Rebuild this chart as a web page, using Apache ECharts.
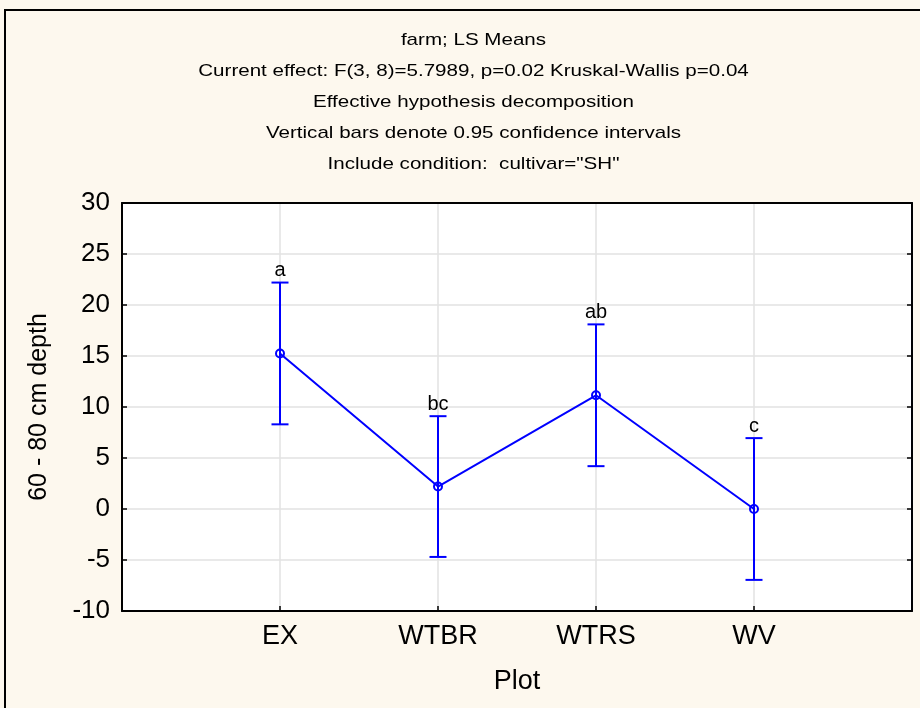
<!DOCTYPE html>
<html>
<head>
<meta charset="utf-8">
<script src="https://cdn.jsdelivr.net/npm/echarts@6/dist/echarts.min.js"></script>
<style>
  html, body { margin: 0; padding: 0; background: #fdf8ee; }
  #chart { width: 920px; height: 708px; }
</style>
</head>
<body>
<div id="chart"></div>
<script>
// LS means of 60-80 cm depth by plot, with 0.95 confidence intervals
var categories = ['EX', 'WTBR', 'WTRS', 'WV'];
var means = [15.25, 2.2, 11.15, 0.0];
var ciLow = [8.3, -4.7, 4.2, -6.95];
var ciHigh = [22.2, 9.1, 18.1, 6.95];
var groupLetters = ['a', 'bc', 'ab', 'c'];
var titleLines = [
  'farm; LS Means',
  'Current effect: F(3, 8)=5.7989, p=0.02 Kruskal-Wallis p=0.04',
  'Effective hypothesis decomposition',
  'Vertical bars denote 0.95 confidence intervals',
  'Include condition:  cultivar="SH"'
];
var yTicks = { min: -10, max: 30, step: 5 };

var FONT = 'Liberation Sans, Arial, sans-serif';
var BLUE = '#0000ff';

// categories sit at x = 1..n on a value axis with a full step of padding both sides
var linePoints = means.map(function (m, i) { return [i + 1, m]; });
var barData = categories.map(function (c, i) {
  return [i + 1, ciLow[i], ciHigh[i], means[i], groupLetters[i]];
});

// header block: five centred lines, slightly widened
var headerGraphics = titleLines.map(function (t, i) {
  return {
    type: 'text',
    x: 473.5,
    y: 40 + i * 31.1,
    scaleX: 1.21,
    style: {
      text: t, align: 'center', verticalAlign: 'middle',
      fontFamily: FONT, fontSize: 17, fill: '#000'
    }
  };
});

var frameAxis = {
  axisLine: { show: true, onZero: false, lineStyle: { color: '#000', width: 2 } },
  axisTick: { show: true, inside: true, length: 5, lineStyle: { color: '#000', width: 1.5 } }
};

var chart = echarts.init(document.getElementById('chart'));
chart.setOption({
  backgroundColor: '#fdf8ee',
  animation: false,
  graphic: [{
    type: 'rect',
    z: -10,
    shape: { x: 5, y: 10, width: 1000, height: 800 },
    style: { fill: '#fdf8ee', stroke: '#000', lineWidth: 2 }
  }].concat(headerGraphics),
  grid: {
    left: 122, top: 203, width: 790, height: 408,
    show: true, backgroundColor: '#fff', borderWidth: 0
  },
  xAxis: [{
    type: 'value',
    position: 'bottom',
    min: 0, max: categories.length + 1, interval: 1,
    name: 'Plot',
    nameLocation: 'middle',
    nameGap: 57,
    nameTextStyle: { fontFamily: FONT, fontSize: 27, color: '#000' },
    axisLine: frameAxis.axisLine,
    axisTick: frameAxis.axisTick,
    axisLabel: {
      fontFamily: FONT, fontSize: 27, color: '#000', margin: 12,
      formatter: function (v) { return categories[v - 1] || ''; }
    },
    splitLine: { show: true, lineStyle: { color: '#e2e2e2', width: 1.5 } }
  }, {
    type: 'value',
    position: 'top',
    min: 0, max: categories.length + 1, interval: 1,
    axisLine: frameAxis.axisLine,
    axisTick: { show: false },
    axisLabel: { show: false },
    splitLine: { show: false }
  }],
  yAxis: [{
    type: 'value',
    position: 'left',
    min: yTicks.min, max: yTicks.max, interval: yTicks.step,
    name: '60 - 80 cm depth',
    nameLocation: 'middle',
    nameGap: 70,
    nameTextStyle: { fontFamily: FONT, fontSize: 25, color: '#000' },
    axisLine: frameAxis.axisLine,
    axisTick: frameAxis.axisTick,
    axisLabel: { fontFamily: FONT, fontSize: 26, color: '#000', margin: 12 },
    splitLine: { show: true, lineStyle: { color: '#e2e2e2', width: 1.5 } }
  }, {
    type: 'value',
    position: 'right',
    min: yTicks.min, max: yTicks.max, interval: yTicks.step,
    axisLine: frameAxis.axisLine,
    axisTick: frameAxis.axisTick,
    axisLabel: { show: false },
    splitLine: { show: false }
  }],
  series: [{
    type: 'line',
    data: linePoints,
    symbol: 'none',
    lineStyle: { color: BLUE, width: 2 },
    z: 4
  }, {
    // confidence-interval whiskers, hollow mean marker and group letter
    type: 'custom',
    data: barData,
    z: 5,
    renderItem: function (params, api) {
      var x = api.value(0);
      var lo = api.coord([x, api.value(1)]);
      var hi = api.coord([x, api.value(2)]);
      var mid = api.coord([x, api.value(3)]);
      var half = 8.5;
      var ls = { stroke: BLUE, lineWidth: 2 };
      return {
        type: 'group',
        children: [
          { type: 'line', shape: { x1: lo[0], y1: lo[1], x2: hi[0], y2: hi[1] }, style: ls },
          { type: 'line', shape: { x1: lo[0] - half, y1: lo[1], x2: lo[0] + half, y2: lo[1] }, style: ls },
          { type: 'line', shape: { x1: hi[0] - half, y1: hi[1], x2: hi[0] + half, y2: hi[1] }, style: ls },
          { type: 'circle', shape: { cx: mid[0], cy: mid[1], r: 4 }, style: { fill: 'none', stroke: BLUE, lineWidth: 2 } },
          {
            type: 'text',
            style: {
              text: api.value(4), x: hi[0], y: hi[1] - 2,
              align: 'center', verticalAlign: 'bottom',
              fontFamily: FONT, fontSize: 20, fill: '#000'
            }
          }
        ]
      };
    }
  }]
});
</script>
</body>
</html>
